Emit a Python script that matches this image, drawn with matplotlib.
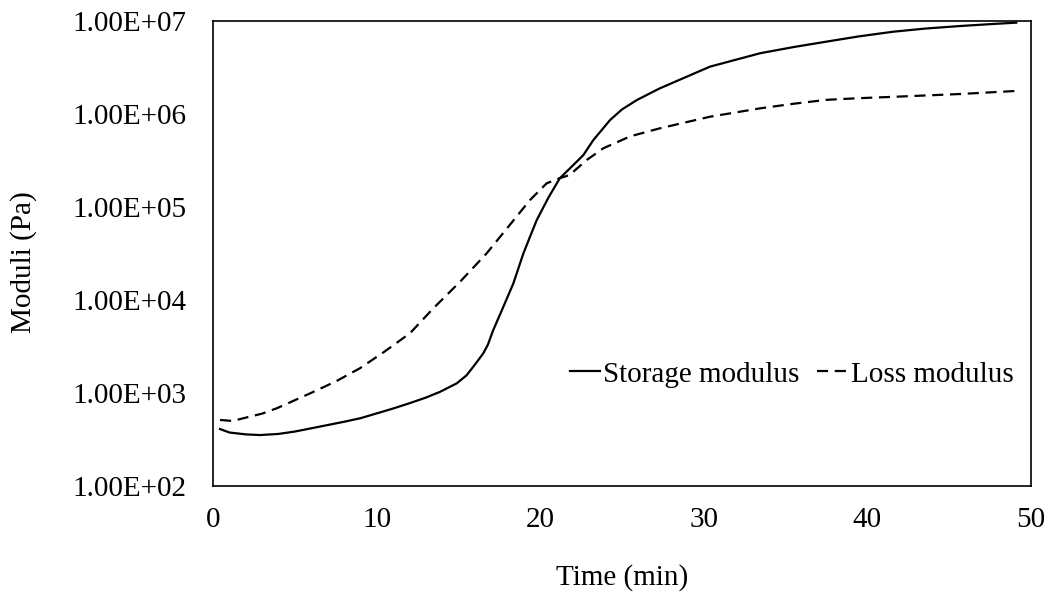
# Gráfica de módulos (almacenamiento y pérdida) frente al tiempo
import matplotlib
matplotlib.use("Agg")
import matplotlib.pyplot as plt
from matplotlib.ticker import FixedLocator, FixedFormatter

# Datos (tiempo en min, módulos en Pa)
tiempo_storage = [0.43, 1.0, 2.0, 2.87, 4.0, 5.0, 6.0, 7.0, 8.0, 9.0, 10.0,
                  11.0, 12.0, 13.0, 13.88, 14.9, 15.5, 15.91, 16.2, 16.52, 16.8,
                  17.13, 17.75, 18.36, 18.97, 19.4, 19.79, 20.5, 21.2, 22.0,
                  22.64, 23.25, 24.27, 25.0, 25.9, 26.8, 27.32, 28.8, 30.38,
                  33.44, 35.5, 37.5, 39.5, 41.58, 43.5, 45.66, 47.5, 49.1]
storage_modulus = [410, 376, 359, 353, 363, 385, 417, 452, 490, 535, 603,
                   680, 775, 891, 1030, 1270, 1550, 1920, 2240, 2670, 3300,
                   4750, 8470, 15100, 31600, 49000, 72400, 126000, 204000, 280000,
                   362000, 525000, 861000, 1120000, 1410000, 1700000, 1890000,
                   2450000, 3230000, 4500000, 5250000, 6000000, 6840000, 7670000,
                   8280000, 8830000, 9250000, 9600000]

tiempo_loss = [0.43, 1.2, 1.85, 3.0, 3.89, 5.93, 7.5, 8.99, 10.5, 12.04, 13.47,
               15.1, 16.73, 18.0, 19.38, 20.4, 21.2, 21.8, 22.84, 23.86, 25.5,
               27.32, 30.38, 33.44, 35.5, 37.5, 39.5, 41.58, 45.66, 49.1]
loss_modulus = [513, 500, 535, 600, 684, 990, 1330, 1850, 2800, 4390, 8150,
                15700, 31800, 59800, 119000, 180000, 204000, 221000, 320000,
                428000, 575000, 702000, 935000, 1150000, 1290000, 1420000,
                1480000, 1530000, 1640000, 1770000]

ticks_x = [0, 10, 20, 30, 40, 50]
ticks_y = [1e2, 1e3, 1e4, 1e5, 1e6, 1e7]
etiquetas_y = ["1.00E+02", "1.00E+03", "1.00E+04", "1.00E+05", "1.00E+06", "1.00E+07"]

plt.rcParams['font.family'] = ['Liberation Serif', 'DejaVu Serif']
plt.rcParams['font.size'] = 21

fig = plt.figure(figsize=(10.53, 5.94), dpi=100)
ax = fig.add_axes([213 / 1053, 1 - 486 / 594, 818 / 1053, 465 / 594])

ax.plot(tiempo_storage, storage_modulus, color='black', lw=1.6, label='Storage modulus')
ax.plot(tiempo_loss, loss_modulus, color='black', lw=1.6, linestyle=(0, (5, 3)),
        label='Loss modulus')

ax.set_yscale('log')
ax.set_xlim(0, 50)
ax.set_ylim(1e2, 1e7)
ax.set_xticks(ticks_x)
ax.yaxis.set_major_locator(FixedLocator(ticks_y))
ax.yaxis.set_major_formatter(FixedFormatter(etiquetas_y))
ax.yaxis.set_minor_locator(FixedLocator([]))

# Sin marcas de graduación, como en Excel
ax.tick_params(axis='both', length=0)
ax.tick_params(axis='y', pad=19)
ax.tick_params(axis='x', pad=15)

for lado in ax.spines.values():
    lado.set_linewidth(1.2)

ax.set_xlabel('Time (min)')
ax.set_ylabel('Moduli (Pa)')
ax.xaxis.set_label_coords(0.5, -0.168)
ax.yaxis.set_label_coords(-0.215, 0.482)

ax.legend(loc='center right', bbox_to_anchor=(1.0, 0.24), frameon=False, ncol=2,
          handlelength=1.05, handletextpad=0.1, columnspacing=0.6, fontsize=21,
          borderaxespad=0.2)

fig.savefig('out.png', dpi=100)
